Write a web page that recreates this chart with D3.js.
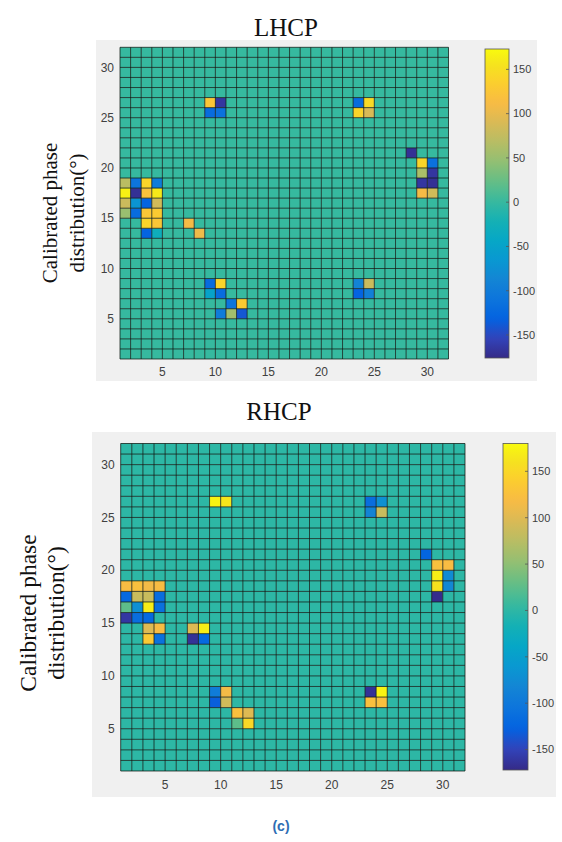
<!DOCTYPE html>
<html>
<head>
<meta charset="utf-8">
<script src="https://cdn.jsdelivr.net/npm/d3@7"></script>
<style>
body { margin: 0; background: #fff; }
svg { display: block; }
</style>
</head>
<body>
<div id="chart"></div>
<script>
var gridN = 31;
var axisTicks = [5, 10, 15, 20, 25, 30];
var cbarTicks = [-150, -100, -50, 0, 50, 100, 150];
var lhcpRange = [-176, 173];
var rhcpRange = [-172, 180];

// [column, row, phase] for the cells that are not 0
var lhcpCells = [
  [1,18,70],[2,18,-110],[3,18,140],[4,18,-100],
  [1,17,165],[2,17,-170],[3,17,120],[4,17,160],
  [1,16,80],[2,16,-70],[3,16,-130],[4,16,85],
  [1,15,50],[2,15,-120],[3,15,125],[4,15,130],
  [3,14,140],[4,14,125],[7,14,110],
  [3,13,-130],[4,13,-30],[8,13,105],
  [9,26,125],[10,26,-165],[9,25,-120],[10,25,-115],
  [9,8,-120],[10,8,140],[9,7,-50],[10,7,-120],
  [11,6,-110],[12,6,130],[10,5,-100],[11,5,55],[12,5,-140],
  [23,26,-120],[24,26,145],[23,25,140],[24,25,90],
  [23,8,-90],[24,8,80],[23,7,-130],[24,7,-95],
  [28,21,-170],[29,20,140],[30,20,-115],[29,19,60],[30,19,-165],
  [29,18,-165],[30,18,-170],[29,17,110],[30,17,85]
];
var rhcpCells = [
  [1,18,120],[2,18,125],[3,18,115],[4,18,120],
  [1,17,-120],[2,17,85],[3,17,85],[4,17,-115],
  [1,16,25],[2,16,-70],[3,16,170],[4,16,-110],
  [1,15,-160],[2,15,-115],[3,15,-120],
  [3,14,100],[4,14,120],[7,14,100],[8,14,170],
  [3,13,135],[4,13,-110],[7,13,-165],[8,13,-120],
  [9,26,175],[10,26,165],
  [9,8,-95],[10,8,115],[9,7,-130],[10,7,90],
  [11,6,125],[12,6,100],[11,5,25],[12,5,150],
  [23,26,-115],[24,26,-70],[23,25,-85],[24,25,85],
  [23,8,-165],[24,8,175],[23,7,125],[24,7,125],
  [28,21,-125],[29,20,125],[30,20,120],[29,19,170],[30,19,-75],
  [29,18,160],[30,18,-80],[29,17,-170]
];

// parula colour map, a subset of the 64 rows
var parulaIdx = [0,4,8,12,16,20,24,28,32,36,40,44,48,52,56,60,63];
var parulaRgb = [
  [0.2081,0.1663,0.5292],[0.1959,0.2645,0.7279],[0.0117,0.3875,0.8820],
  [0.0498,0.4586,0.8641],[0.0793,0.5200,0.8312],[0.0343,0.5966,0.8199],
  [0.0228,0.6535,0.7768],[0.0843,0.6928,0.7062],[0.2178,0.7250,0.6193],
  [0.3953,0.7459,0.5244],[0.5709,0.7485,0.4494],[0.7184,0.7411,0.3905],
  [0.8507,0.7299,0.3360],[0.9739,0.7314,0.2666],[0.9880,0.8066,0.1794],
  [0.9589,0.8949,0.1132],[0.9763,0.9831,0.0538]
];
var parula = d3.scaleLinear()
  .domain(parulaIdx.map(function(d){ return d / 63; }))
  .range(parulaRgb.map(function(c){ return d3.rgb(c[0]*255, c[1]*255, c[2]*255).toString(); }))
  .interpolate(d3.interpolateRgb)
  .clamp(true);

var W = 562, H = 842;
var svg = d3.select("#chart").append("svg")
  .attr("width", W)
  .attr("height", H);

var panels = [
  { title: "LHCP", cells: lhcpCells, range: lhcpRange,
    bg: [96, 40, 441, 341], px: [120, 448.5], py: [359, 47.3],
    cb: [485, 509, 49, 358], titleX: 286, titleY: 36,
    yl1: 50, yl2: 77, ylY: 213, ylSize: 21, xlabY: 376, cbLabX: 513 },
  { title: "RHCP", cells: rhcpCells, range: rhcpRange,
    bg: [92, 432, 464, 365], px: [120.7, 465], py: [771, 443.5],
    cb: [503, 528, 443.5, 770], titleX: 279, titleY: 420,
    yl1: 28, yl2: 56, ylY: 613, ylSize: 23.5, xlabY: 789, cbLabX: 532 }
];

panels.forEach(drawPanel);

function drawPanel(p, pi) {
  var g = svg.append("g");

  g.append("rect")
    .attr("x", p.bg[0]).attr("y", p.bg[1])
    .attr("width", p.bg[2]).attr("height", p.bg[3])
    .attr("fill", "#f0f0f0");

  var x = d3.scaleLinear().domain([1, gridN + 1]).range(p.px);
  var y = d3.scaleLinear().domain([1, gridN + 1]).range(p.py);
  var color = function(v) {
    return parula((v - p.range[0]) / (p.range[1] - p.range[0]));
  };

  // full matrix, zero everywhere except the listed cells
  var lookup = {};
  p.cells.forEach(function(c){ lookup[c[0] + "_" + c[1]] = c[2]; });
  var matrix = [];
  for (var r = 1; r <= gridN; r++) {
    for (var c = 1; c <= gridN; c++) {
      var v = lookup[c + "_" + r];
      matrix.push({ col: c, row: r, value: v === undefined ? 0 : v });
    }
  }

  g.append("g").selectAll("rect")
    .data(matrix)
    .enter()
    .append("rect")
    .attr("x", function(d){ return x(d.col); })
    .attr("y", function(d){ return y(d.row + 1); })
    .attr("width", function(d){ return x(d.col + 1) - x(d.col); })
    .attr("height", function(d){ return y(d.row) - y(d.row + 1); })
    .attr("fill", function(d){ return color(d.value); });

  // pcolor edges
  var edges = d3.range(1, gridN + 2);
  var lines = g.append("g")
    .attr("stroke", "#0d1a14")
    .attr("stroke-width", 0.9)
    .attr("stroke-opacity", 0.85);
  lines.selectAll(".v").data(edges).enter().append("line")
    .attr("x1", function(d){ return x(d); }).attr("x2", function(d){ return x(d); })
    .attr("y1", p.py[0]).attr("y2", p.py[1]);
  lines.selectAll(".h").data(edges).enter().append("line")
    .attr("y1", function(d){ return y(d); }).attr("y2", function(d){ return y(d); })
    .attr("x1", p.px[0]).attr("x2", p.px[1]);

  // tick labels
  var tickFont = "'Liberation Sans', Arial, sans-serif";
  g.append("g").selectAll("text")
    .data(axisTicks).enter().append("text")
    .attr("x", function(d){ return x(d); })
    .attr("y", p.xlabY)
    .attr("text-anchor", "middle")
    .attr("font-family", tickFont)
    .attr("font-size", 12)
    .attr("fill", "#404040")
    .text(function(d){ return d; });
  g.append("g").selectAll("text")
    .data(axisTicks).enter().append("text")
    .attr("x", p.px[0] - 6)
    .attr("y", function(d){ return y(d); })
    .attr("dy", "0.35em")
    .attr("text-anchor", "end")
    .attr("font-family", tickFont)
    .attr("font-size", 12)
    .attr("fill", "#404040")
    .text(function(d){ return d; });

  // colorbar
  var cy = d3.scaleLinear().domain(p.range).range([p.cb[3], p.cb[2]]);
  var gradId = "cbgrad" + pi;
  var grad = svg.append("defs").append("linearGradient")
    .attr("id", gradId)
    .attr("x1", 0).attr("y1", 1).attr("x2", 0).attr("y2", 0);
  grad.selectAll("stop")
    .data(d3.range(0, 1.0001, 0.02))
    .enter().append("stop")
    .attr("offset", function(d){ return d; })
    .attr("stop-color", function(d){ return parula(d); });
  g.append("rect")
    .attr("x", p.cb[0]).attr("y", p.cb[2])
    .attr("width", p.cb[1] - p.cb[0])
    .attr("height", p.cb[3] - p.cb[2])
    .attr("fill", "url(#" + gradId + ")")
    .attr("stroke", "#555")
    .attr("stroke-width", 0.8);
  g.append("g").selectAll("line")
    .data(cbarTicks).enter().append("line")
    .attr("x1", p.cb[1] - 3).attr("x2", p.cb[1])
    .attr("y1", function(d){ return cy(d); })
    .attr("y2", function(d){ return cy(d); })
    .attr("stroke", "#555")
    .attr("stroke-width", 0.8);
  g.append("g").selectAll("text")
    .data(cbarTicks).enter().append("text")
    .attr("x", p.cbLabX)
    .attr("y", function(d){ return cy(d); })
    .attr("dy", "0.35em")
    .attr("font-family", tickFont)
    .attr("font-size", 11)
    .attr("fill", "#404040")
    .text(function(d){ return d; });

  // title and y label
  var serif = "'Liberation Serif', 'Times New Roman', serif";
  g.append("text")
    .attr("x", p.titleX).attr("y", p.titleY)
    .attr("text-anchor", "middle")
    .attr("font-family", serif)
    .attr("font-size", 25)
    .attr("fill", "#111")
    .text(p.title);
  [["Calibrated phase", p.yl1], ["distribution(\u00b0)", p.yl2]].forEach(function(l){
    g.append("text")
      .attr("transform", "translate(" + l[1] + "," + p.ylY + ") rotate(-90)")
      .attr("text-anchor", "middle")
      .attr("dy", "0.35em")
      .attr("font-family", serif)
      .attr("font-size", p.ylSize)
      .attr("fill", "#111")
      .text(l[0]);
  });
}

svg.append("text")
  .attr("x", 281).attr("y", 831)
  .attr("text-anchor", "middle")
  .attr("font-family", "'Liberation Sans', Arial, sans-serif")
  .attr("font-size", 14)
  .attr("font-weight", "bold")
  .attr("fill", "#2e6db4")
  .text("(c)");
</script>
</body>
</html>
